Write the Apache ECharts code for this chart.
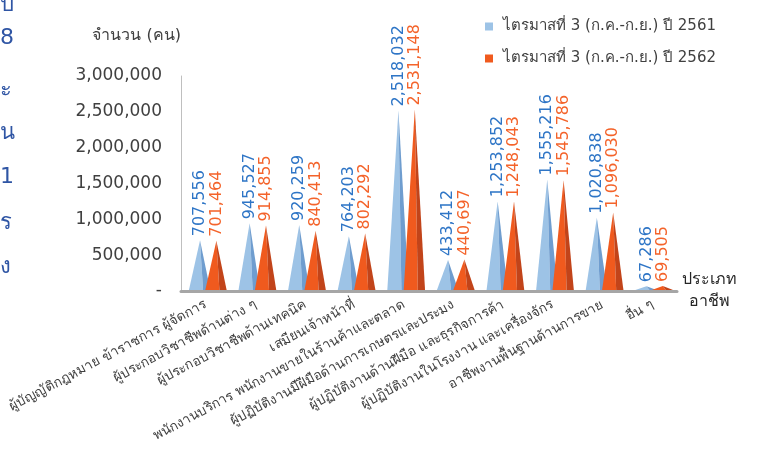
<!DOCTYPE html>
<html>
<head>
<meta charset="utf-8">
<script src="https://cdn.jsdelivr.net/npm/echarts@6/dist/echarts.min.js"></script>
<style>html,body{margin:0;padding:0;background:#fff}#c{width:759px;height:449px}</style>
</head>
<body>
<div id="c"></div>
<script>
const categories = [
  "ผู้บัญญัติกฎหมาย ข้าราชการ ผู้จัดการ",
  "ผู้ประกอบวิชาชีพด้านต่าง ๆ",
  "ผู้ประกอบวิชาชีพด้านเทคนิค",
  "เสมียนเจ้าหน้าที่",
  "พนักงานบริการ พนักงานขายในร้านค้าและตลาด",
  "ผู้ปฏิบัติงานมีฝีมือด้านการเกษตรและประมง",
  "ผู้ปฏิบัติงานด้านฝีมือ และธุรกิจการค้า",
  "ผู้ปฏิบัติงานในโรงงาน และเครื่องจักร",
  "อาชีพงานพื้นฐานด้านการขาย",
  "อื่น ๆ"
];
const seriesNames = ["ไตรมาสที่ 3 (ก.ค.-ก.ย.) ปี 2561", "ไตรมาสที่ 3 (ก.ค.-ก.ย.) ปี 2562"];
const values2561 = [707556, 945527, 920259, 764203, 2518032, 433412, 1253852, 1555216, 1020838, 67286];
const values2562 = [701464, 914855, 840413, 802292, 2531148, 440697, 1248043, 1545786, 1096030, 69505];
const sideChars = ["ป", "8", "ะ", "น", "1", "ร", "ง"];

const FONT = 'Tahoma, "DejaVu Sans", "Noto Sans", sans-serif';
const fmt = v => v === 0 ? '-' : v.toLocaleString('en-US');

function makeRender(offsetFrac, light, dark, labelColor) {
  return function (params, api) {
    const idx = api.value(0), v = api.value(1);
    const base = api.coord([idx, 0]);
    const top = api.coord([idx, v]);
    const bw = api.size([1, 0])[0];
    const w = 0.43 * bw;
    const xL = base[0] + offsetFrac * bw;
    const apexX = xL + 0.52 * w, splitX = xL + 0.66 * w, xR = xL + w;
    const y0 = base[1] - 1, yT = top[1];
    return {
      type: 'group',
      children: [
        { type: 'polygon', shape: { points: [[xL, y0], [apexX, yT], [splitX, y0]] }, style: { fill: light } },
        { type: 'polygon', shape: { points: [[splitX, y0], [apexX, yT], [xR, y0]] }, style: { fill: dark } },
        { type: 'text', x: apexX, y: yT - 4, rotation: Math.PI / 2,
          style: { text: fmt(v), fill: labelColor, font: '16px "DejaVu Sans"', align: 'left', verticalAlign: 'middle' } }
      ]
    };
  };
}

const chart = echarts.init(document.getElementById('c'));
chart.setOption({
  animation: false,
  textStyle: { fontFamily: FONT },
  grid: { left: 181, right: 82, top: 76, bottom: 158, containLabel: false, outerBoundsMode: 'none' },
  legend: {
    orient: 'vertical', left: 480, top: 14, itemWidth: 8, itemHeight: 8, itemGap: 17, icon: 'rect',
    textStyle: { fontSize: 15, color: '#404040', fontFamily: FONT, padding: [0, 0, 0, 5] },
    data: seriesNames
  },
  xAxis: {
    type: 'category', data: categories,
    name: 'ประเภท\nอาชีพ', nameLocation: 'end', nameGap: 32,
    nameTextStyle: { fontSize: 16, color: '#262626', align: 'center', verticalAlign: 'middle', lineHeight: 22, padding: [28, 0, 0, 0], fontFamily: FONT },
    axisLine: { lineStyle: { color: '#a6a6a6', width: 3 } },
    axisTick: { show: false },
    axisLabel: { interval: 0, rotate: 28, margin: 13, fontSize: 13.5, color: '#404040', fontFamily: FONT }
  },
  yAxis: {
    type: 'value', min: 0, max: 3000000, interval: 500000,
    name: 'จำนวน (คน)', nameLocation: 'end', nameGap: 32,
    nameTextStyle: { fontSize: 16, color: '#404040', align: 'right', fontFamily: FONT },
    axisLine: { show: true, lineStyle: { color: '#bfbfbf', width: 1 } },
    axisTick: { show: false },
    splitLine: { show: false },
    axisLabel: { fontSize: 17, color: '#404040', margin: 19, fontFamily: '"DejaVu Sans", sans-serif', formatter: v => fmt(v) }
  },
  graphic: sideChars.map((ch, i) => ({
    type: 'text', x: 0, y: [5, 38, 90, 133, 177, 223, 267][i],
    style: { text: ch, fill: '#2f55a4', font: '22px ' + FONT, align: 'left', verticalAlign: 'middle' }
  })),
  series: [
    { name: seriesNames[0], type: 'custom', itemStyle: { color: '#9dc3e6' },
      data: values2561.map((v, i) => [i, v]), encode: { x: 0, y: 1 },
      renderItem: makeRender(-0.34, '#9dc3e6', '#6f9dcf', '#2e75c6') },
    { name: seriesNames[1], type: 'custom', itemStyle: { color: '#f05a1e' },
      data: values2562.map((v, i) => [i, v]), encode: { x: 0, y: 1 },
      renderItem: makeRender(-0.01, '#f05a1e', '#c2441a', '#f4632a') }
  ]
});
</script>
</body>
</html>
